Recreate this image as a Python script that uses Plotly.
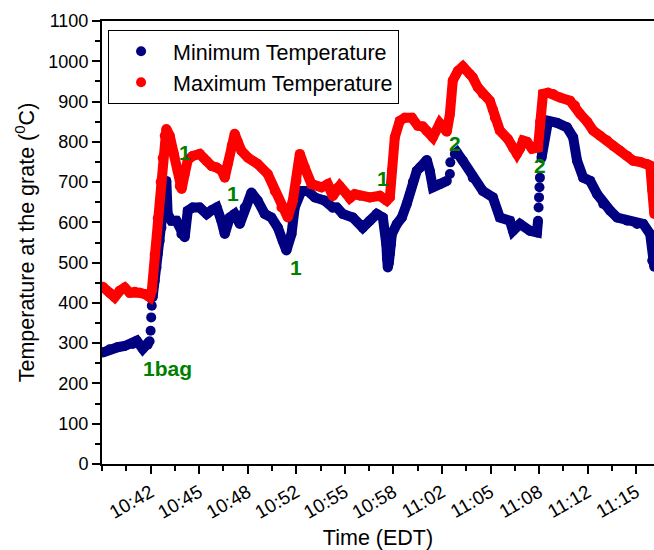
import plotly.graph_objects as go

# time in minutes after 10:00 EDT
t_max = [38.38, 38.86, 39.20, 39.55, 39.89, 40.24, 40.58, 40.92, 41.27, 41.61, 41.75, 41.95, 42.16, 42.36, 42.50,
         42.64, 42.75, 42.98, 43.26, 43.53, 43.67, 43.80, 44.01, 44.22, 44.56, 45.04, 45.31, 45.52, 45.86, 46.21,
         46.55, 46.76, 46.96, 47.24, 47.44, 47.65, 47.90, 48.34, 49.02, 49.71, 50.19, 50.65, 51.08, 51.43, 51.68,
         51.91, 52.25, 52.71, 53.40, 53.83, 54.17, 54.45, 54.65, 55.13, 55.34, 55.68, 56.03, 56.71, 57.40, 57.88,
         58.09, 58.23, 58.43, 58.77, 59.12, 59.60, 60.01, 60.35, 60.63, 61.04, 61.52, 62.00, 62.21, 62.41, 62.76,
         63.10, 63.58, 63.78, 64.13, 64.47, 64.75, 64.95, 65.16, 65.30, 65.64, 66.19, 66.54, 66.81, 67.02, 67.23,
         67.50, 67.85, 68.26, 68.40, 68.60, 68.95, 69.29, 69.77, 70.46, 70.80, 71.15, 71.63, 72.04, 72.52, 73.01,
         73.42, 73.90, 74.38, 74.79, 75.27, 75.75, 75.96, 76.10, 76.24]
v_max = [440, 425, 414, 430, 438, 425, 428, 425, 422, 414, 430, 520, 610, 700, 760,
         815, 832, 815, 770, 728, 690, 683, 720, 755, 765, 770, 760, 752, 740, 736,
         728, 711, 745, 790, 820, 800, 778, 761, 745, 720, 678, 637, 612, 654, 703,
         770, 736, 695, 687, 695, 665, 685, 690, 670, 660, 670, 666, 662, 666, 654,
         662, 728, 811, 852, 860, 860, 840, 838, 827, 811, 846, 825, 869, 952, 976,
         987, 968, 960, 935, 919, 910, 902, 880, 860, 828, 807, 785, 770, 783, 803,
         800, 783, 786, 850, 919, 922, 919, 910, 902, 890, 869, 850, 828, 815, 803,
         790, 778, 765, 753, 750, 745, 741, 680, 621]

t_min = [38.38, 38.86, 39.41, 39.89, 40.44, 40.72, 41.13, 41.47, 41.60, None, 41.67, None, 41.71, None, 41.75, None,
         41.81, 41.95, 42.07, 42.16, 42.29, 42.41, 42.50, 42.64, 42.75, 42.84, 43.10, 43.44, 43.78, 44.01, 44.22,
         44.56, 45.04, 45.52, 45.86, 46.21, 46.53, 46.76, 47.10, 47.44, 47.79, 48.13, 48.59, 49.02, 49.50, 49.96,
         50.40, 50.74, 50.99, 51.34, 51.56, 52.02, 52.46, 52.94, 53.62, 54.17, 54.45, 54.86, 55.55, 56.23, 56.71,
         57.19, 57.61, 57.81, 57.85, 57.90, 57.95, 58.02, 58.09, 58.16, 58.23, 58.57, 58.91, 59.25, 59.67, 59.94,
         60.15, 60.63, 60.83, 61.04, 61.52, 62.00, None, 62.21, None, 62.24, None, 62.55, 62.69, 63.10, 63.78,
         64.47, 65.16, 65.64, 66.33, 66.54, 67.02, 67.71, 68.19, 68.26, None, 68.30, None, 68.33, None, 68.36, None,
         68.39, None, 68.50, 68.53, 68.74, 68.95, 69.57, 70.25, 70.67, 70.94, 71.36, 71.84, 72.32, 72.73, 73.21,
         73.69, 74.38, 75.06, 75.48, 75.96, 76.10, 76.24]
v_min = [277, 285, 290, 293, 298, 306, 286, 296, 305, None, 331, None, 364, None, 393, None,
         414, 455, 488, 522, 554, 587, 629, 687, 703, 621, 604, 604, 571, 563, 629,
         637, 637, 621, 630, 637, 604, 571, 612, 621, 596, 637, 674, 654, 621, 612,
         587, 554, 530, 571, 637, 678, 678, 662, 654, 637, 637, 621, 612, 587, 604,
         621, 612, 571, 545, 510, 488, 500, 522, 545, 571, 596, 612, 646, 700, 728,
         736, 755, 728, 687, 695, 703, None, 720, None, 749, None, 770, 774, 753, 711,
         678, 662, 612, 604, 579, 596, 579, 575, 604, None, 637, None, 662, None, 687, None,
         711, None, 760, 770, 820, 852, 847, 836, 811, 753, 711, 703, 670, 646, 629,
         612, 604, 596, 596, 571, 505, 490]

tick_labels = ["10:42", "10:45", "10:48", "10:52", "10:55", "10:58", "11:02", "11:05", "11:08", "11:12", "11:15"]
y_ticks = list(range(0, 1101, 100))

note_text = ["1bag", "1", "1", "1", "1", "2", "2"]
note_t = [42.84, 44.01, 47.31, 51.63, 57.61, 62.55, 68.40]
note_v = [237, 773, 672, 487, 710, 796, 741]

FONT = "Liberation Sans, Arial, sans-serif"
BLUE = "#000080"
RED = "#ff0000"
GREEN = "#008000"

t0 = 38 + 1/3
step = 10/3
tick_vals = [t0 + step * (i + 1) for i in range(len(tick_labels))]

fig = go.Figure()
fig.add_trace(go.Scatter(x=t_min, y=v_min, mode="lines+markers", showlegend=False,
                         line=dict(color=BLUE, width=10), marker=dict(color=BLUE, size=10),
                         connectgaps=False))
fig.add_trace(go.Scatter(x=t_max, y=v_max, mode="lines+markers", showlegend=False,
                         line=dict(color=RED, width=10), marker=dict(color=RED, size=10)))
fig.add_trace(go.Scatter(x=[None], y=[None], mode="markers", name="Minimum Temperature",
                         marker=dict(color=BLUE, size=10)))
fig.add_trace(go.Scatter(x=[None], y=[None], mode="markers", name="Maximum Temperature",
                         marker=dict(color=RED, size=10)))

for txt, tx, ty in zip(note_text, note_t, note_v):
    fig.add_annotation(x=tx, y=ty, text="<b>%s</b>" % txt, showarrow=False,
                       font=dict(family=FONT, size=21, color=GREEN))

fig.update_layout(
    width=654, height=550,
    margin=dict(l=102, r=0, t=21, b=86),
    plot_bgcolor="white", paper_bgcolor="white",
    font=dict(family=FONT, color="black"),
    legend=dict(x=0.011, y=0.98, xanchor="left", yanchor="top",
                bordercolor="black", borderwidth=1, bgcolor="white",
                font=dict(size=21.5, family=FONT), itemwidth=54, tracegroupgap=0),
    xaxis=dict(range=[t0, 76.22], tickvals=tick_vals, ticktext=tick_labels, tickangle=-30,
               ticks="outside", ticklen=8, tickwidth=2, tickcolor="black",
               showline=True, linecolor="black", linewidth=2, mirror=True,
               showgrid=False, zeroline=False, tickfont=dict(size=19),
               minor=dict(tick0=t0, dtick=step / 2, ticks="outside", ticklen=5, tickwidth=2, tickcolor="black"),
               title=dict(text="Time (EDT)", font=dict(size=21.5), standoff=8)),
    yaxis=dict(range=[0, 1100], tickvals=y_ticks,
               ticks="outside", ticklen=8, tickwidth=2, tickcolor="black",
               showline=True, linecolor="black", linewidth=2,
               showgrid=False, zeroline=False, tickfont=dict(size=18),
               minor=dict(dtick=50, ticks="outside", ticklen=5, tickwidth=2, tickcolor="black"),
               title=dict(text="Temperature at the grate (<sup>0</sup>C)", font=dict(size=21.5), standoff=8)),
)

fig.write_html("out.html")
